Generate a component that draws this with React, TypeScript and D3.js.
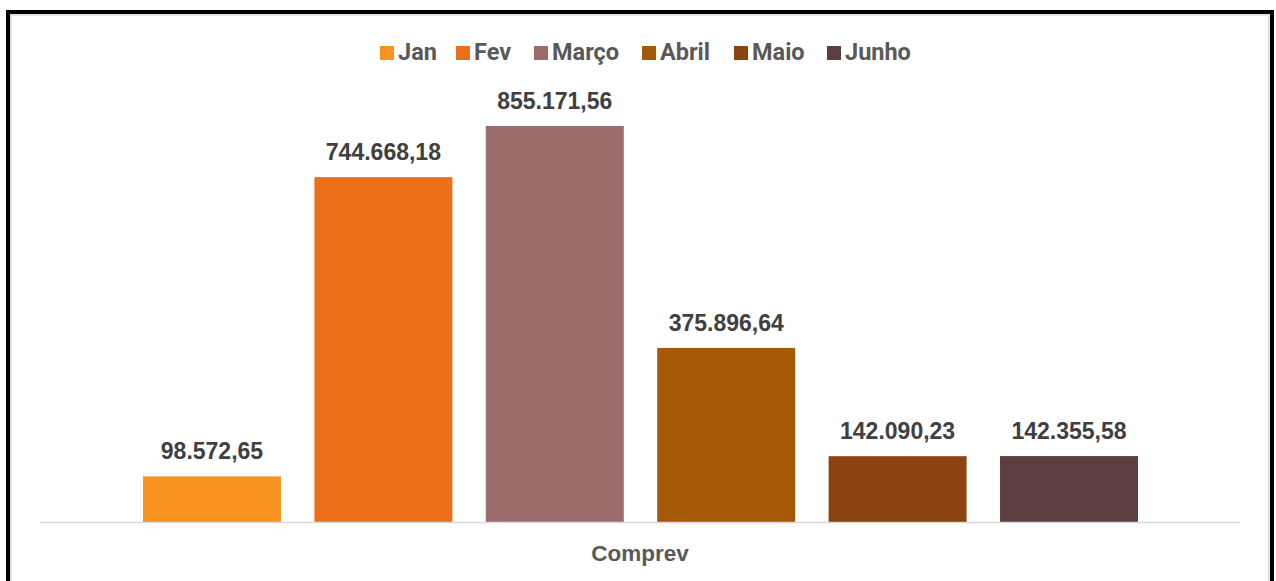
import { useEffect, useRef } from 'react'
import * as d3 from 'd3'

const months = ['Jan', 'Fev', 'Março', 'Abril', 'Maio', 'Junho']
const values = [98572.65, 744668.18, 855171.56, 375896.64, 142090.23, 142355.58]
const colors = ['#F7931E', '#EB7019', '#9C6B6B', '#A45A05', '#8B430F', '#5E3F40']
const category = 'Comprev'

const W = 1276
const H = 581

// pt-BR number format: 855.171,56
const fmt = (v: number) =>
  v.toLocaleString('pt-BR', { minimumFractionDigits: 2, maximumFractionDigits: 2 })

export default function App() {
  const svgRef = useRef<SVGSVGElement>(null)

  useEffect(() => {
    if (!svgRef.current) return
    const svg = d3.select(svgRef.current)
    svg.selectAll('*').remove()

    svg.append('rect').attr('width', W).attr('height', H).attr('fill', '#fff')

    // outer frame (black) with the light gray inner edge
    svg.append('rect')
      .attr('x', 8).attr('y', 12).attr('width', 1264).attr('height', 600)
      .attr('fill', 'none').attr('stroke', '#000').attr('stroke-width', 4)
    svg.append('rect')
      .attr('x', 10.75).attr('y', 14.75).attr('width', 1258).attr('height', 600)
      .attr('fill', 'none').attr('stroke', '#d9d9d9').attr('stroke-width', 1.5)

    const x = d3.scaleBand<string>()
      .domain(months)
      .range([143, 1138])
      .paddingInner(0.195)
      .paddingOuter(0)

    const y = d3.scaleLinear().domain([0, 1000000]).range([522, 58.9])

    const g = svg.append('g')

    g.selectAll('rect.bar')
      .data(months)
      .join('rect')
      .attr('class', 'bar')
      .attr('x', d => x(d)!)
      .attr('y', (_, i) => y(values[i]))
      .attr('width', x.bandwidth())
      .attr('height', (_, i) => y(0) - y(values[i]))
      .attr('fill', (_, i) => colors[i])

    // baseline
    g.append('line')
      .attr('x1', 40).attr('x2', 1240)
      .attr('y1', 522.5).attr('y2', 522.5)
      .attr('stroke', '#d9d9d9').attr('stroke-width', 1.5)

    // data labels
    g.selectAll('text.lbl')
      .data(months)
      .join('text')
      .attr('class', 'lbl')
      .attr('x', d => x(d)! + x.bandwidth() / 2)
      .attr('y', (_, i) => y(values[i]) - 17)
      .attr('text-anchor', 'middle')
      .attr('font-family', '"Liberation Sans", Arial, sans-serif')
      .attr('font-weight', 700)
      .attr('font-size', 23)
      .attr('fill', '#404040')
      .text((_, i) => fmt(values[i]))

    // category axis label
    g.append('text')
      .attr('x', 640).attr('y', 561)
      .attr('text-anchor', 'middle')
      .attr('font-family', '"Liberation Sans", Arial, sans-serif')
      .attr('font-weight', 700)
      .attr('font-size', 22.5)
      .attr('fill', '#595959')
      .text(category)

    // legend
    const legendX = [380, 456, 534, 642, 734, 827]
    const lg = svg.append('g')
    months.forEach((m, i) => {
      lg.append('rect')
        .attr('x', legendX[i]).attr('y', 46)
        .attr('width', 14).attr('height', 14)
        .attr('fill', colors[i])
      lg.append('text')
        .attr('x', legendX[i] + 18).attr('y', 60)
        .attr('font-family', '"Liberation Sans Narrow", "Roboto", sans-serif')
        .attr('font-weight', 700)
        .attr('font-size', 23.5)
        .attr('fill', '#595959')
        .text(m)
    })
  }, [])

  return (
    <svg
      ref={svgRef}
      width={W}
      height={H}
      style={{ position: 'absolute', left: 0, top: 0, display: 'block' }}
    />
  )
}
